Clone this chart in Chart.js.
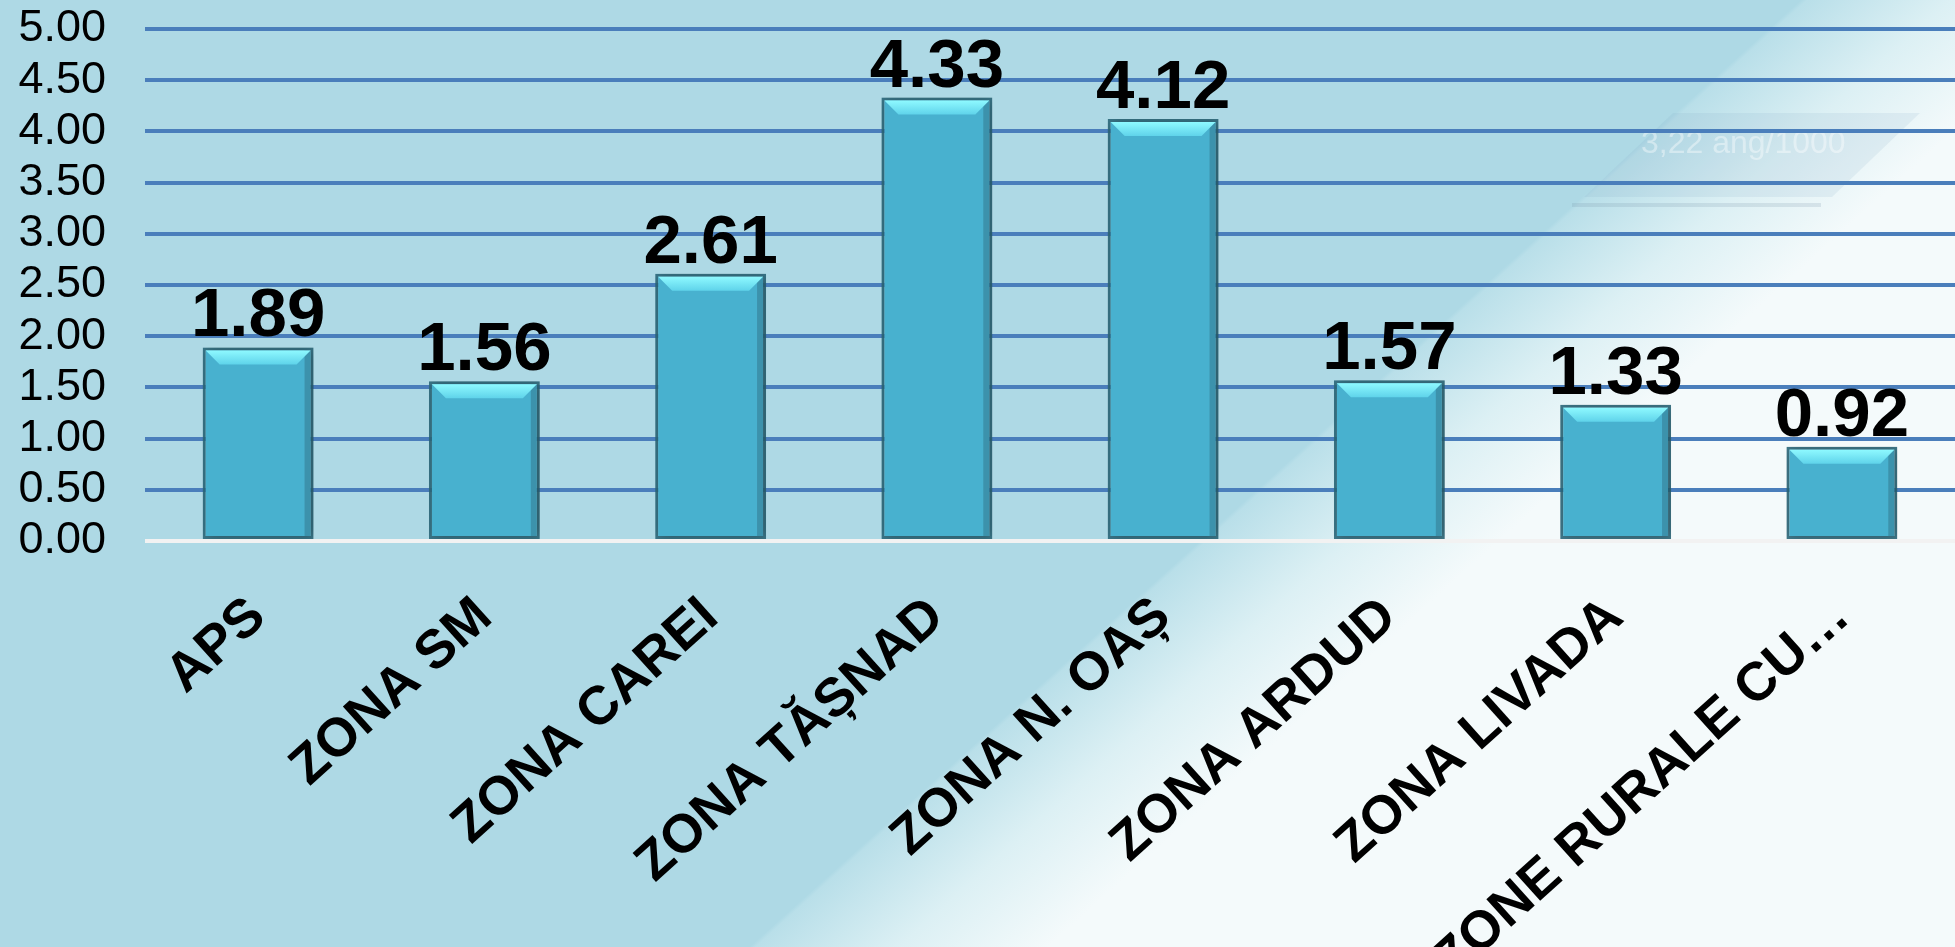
<!DOCTYPE html>
<html>
<head>
<meta charset="utf-8">
<script src="https://cdn.jsdelivr.net/npm/chart.js@4.4.1/dist/chart.umd.min.js"></script>
<style>
  html, body { margin: 0; padding: 0; background: #aed9e5; }
  #wrap { width: 1955px; height: 947px; position: relative; }
</style>
</head>
<body>
<div id="wrap"><canvas id="zoneChart"></canvas></div>
<script>
const zones = ['APS', 'ZONA SM', 'ZONA CAREI', 'ZONA TĂȘNAD', 'ZONA N. OAȘ', 'ZONA ARDUD', 'ZONA LIVADA', 'ZONE RURALE CU…'];
const rates = [1.89, 1.56, 2.61, 4.33, 4.12, 1.57, 1.33, 0.92];
const yTicks = [0, 0.5, 1, 1.5, 2, 2.5, 3, 3.5, 4, 4.5, 5];
const watermark = '3,22 ang/1000';

const FONT = '"Liberation Sans", Arial, sans-serif';

// fundal albastru, cu trecere spre alb dupa o diagonala
const backgroundPlugin = {
    id: 'background',
    beforeDraw(chart) {
        const { ctx, width, height } = chart;
        ctx.save();
        const g = ctx.createLinearGradient(1198, 543, 1198 + 0.669 * 200, 543 + 0.743 * 200);
        g.addColorStop(0, '#aed9e5');
        g.addColorStop(0.02, '#b9dfe9');
        g.addColorStop(0.5, '#dcf0f4');
        g.addColorStop(1, '#f4fafb');
        ctx.fillStyle = g;
        ctx.fillRect(0, 0, width, height);

        // dreptunghiul hasurat din spatele textului
        ctx.fillStyle = 'rgba(120,165,195,0.13)';
        ctx.beginPath();
        ctx.moveTo(1673, 113);
        ctx.lineTo(1920, 113);
        ctx.lineTo(1832, 197);
        ctx.lineTo(1584, 197);
        ctx.closePath();
        ctx.fill();
        ctx.fillStyle = 'rgba(110,140,160,0.18)';
        ctx.fillRect(1572, 203, 249, 4);

        ctx.font = '32px ' + FONT;
        ctx.fillStyle = 'rgba(255,255,255,0.4)';
        ctx.textAlign = 'left';
        ctx.textBaseline = 'middle';
        ctx.fillText(watermark, 1641, 144);
        ctx.restore();
    }
};

// umbra pentru bare
const shadowPlugin = {
    id: 'barShadow',
    beforeDatasetsDraw(chart) {
        const ctx = chart.ctx;
        ctx.save();
        ctx.shadowColor = 'rgba(0,0,0,0.28)';
        ctx.shadowBlur = 10;
        ctx.shadowOffsetX = 2;
    },
    afterDatasetsDraw(chart) {
        chart.ctx.restore();
    }
};

// reflexia de sus si valorile
const barTopPlugin = {
    id: 'barTop',
    afterDatasetsDraw(chart) {
        const ctx = chart.ctx;
        const meta = chart.getDatasetMeta(0);
        ctx.save();
        meta.data.forEach((bar, i) => {
            const left = bar.x - bar.width / 2 + 3;
            const right = bar.x + bar.width / 2 - 3;
            const top = bar.y + 3;

            // margine dreapta mai inchisa
            ctx.fillStyle = 'rgba(40,90,105,0.35)';
            ctx.fillRect(right - 6, top, 6, bar.base - top - 3);

            const g = ctx.createLinearGradient(0, top, 0, top + 14);
            g.addColorStop(0, '#8ef9ff');
            g.addColorStop(1, '#5fd3ea');
            ctx.fillStyle = g;
            ctx.beginPath();
            ctx.moveTo(left, top);
            ctx.lineTo(right, top);
            ctx.lineTo(right - 14, top + 14);
            ctx.lineTo(left + 14, top + 14);
            ctx.closePath();
            ctx.fill();

            ctx.fillStyle = '#000';
            ctx.font = 'bold 69px ' + FONT;
            ctx.textAlign = 'center';
            ctx.textBaseline = 'alphabetic';
            ctx.fillText(rates[i].toFixed(2), bar.x, bar.y - 11);
        });
        ctx.restore();
    }
};

const ctx = document.getElementById('zoneChart').getContext('2d');

new Chart(ctx, {
    type: 'bar',
    data: {
        labels: zones,
        datasets: [{
            data: rates,
            backgroundColor: '#48b1cf',
            borderColor: 'rgba(46,108,126,0.9)',
            borderWidth: 3,
            borderSkipped: false,
            barPercentage: 0.49,
            categoryPercentage: 1.0,
        }]
    },
    options: {
        responsive: true,
        maintainAspectRatio: false,
        animation: false,
        layout: {
            padding: { top: 29, right: 0, bottom: 0, left: 0 }
        },
        plugins: {
            legend: { display: false },
            tooltip: { enabled: false },
        },
        scales: {
            x: {
                grid: { display: false },
                border: { display: false },
                ticks: {
                    color: '#000',
                    font: { family: FONT, size: 54, weight: 'bold' },
                    minRotation: 42,
                    maxRotation: 42,
                    autoSkip: false,
                    padding: 36,
                },
                afterFit(scale) {
                    scale.height = 406;
                    scale.paddingLeft = 0;
                    scale.paddingRight = 0;
                },
            },
            y: {
                min: 0,
                max: 5,
                border: { display: false },
                grid: {
                    drawTicks: false,
                    lineWidth: 4,
                    color: (c) => (c.tick && c.tick.value === 0 ? '#f2f2f2' : '#4a7ebb'),
                },
                afterBuildTicks(scale) {
                    scale.ticks = yTicks.map((v) => ({ value: v }));
                },
                ticks: {
                    color: '#000',
                    padding: 39,
                    autoSkip: false,
                    font: { family: FONT, size: 45 },
                    callback: (v) => Number(v).toFixed(2),
                },
                afterFit(scale) {
                    scale.width = 145;
                    scale.paddingTop = 0;
                    scale.paddingBottom = 0;
                },
            },
        },
    },
    plugins: [backgroundPlugin, shadowPlugin, barTopPlugin],
});
</script>
</body>
</html>
